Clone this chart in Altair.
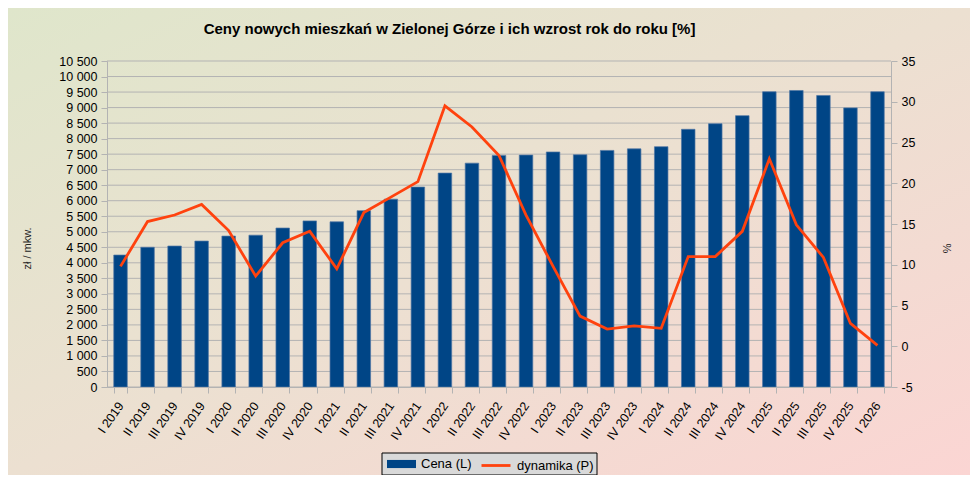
import altair as alt
import pandas as pd

# kwartały
kwartaly = [
    "I 2019", "II 2019", "III 2019", "IV 2019",
    "I 2020", "II 2020", "III 2020", "IV 2020",
    "I 2021", "II 2021", "III 2021", "IV 2021",
    "I 2022", "II 2022", "III 2022", "IV 2022",
    "I 2023", "II 2023", "III 2023", "IV 2023",
    "I 2024", "II 2024", "III 2024", "IV 2024",
    "I 2025", "II 2025", "III 2025", "IV 2025",
    "I 2026",
]

# cena zł / m2 (oś lewa)
cena = [
    4250, 4500, 4540, 4700,
    4860, 4890, 5120, 5350,
    5320, 5680, 6050, 6440,
    6890, 7210, 7460, 7470,
    7570, 7480, 7620, 7670,
    7740, 8300, 8480, 8740,
    9510, 9550, 9390, 8990,
    9510,
]

# dynamika r/r w % (oś prawa)
dynamika = [
    9.8, 15.3, 16.1, 17.4,
    14.2, 8.6, 12.7, 14.1,
    9.5, 16.4, 18.3, 20.2,
    29.5, 26.9, 23.4, 16.1,
    9.8, 3.7, 2.1, 2.5,
    2.2, 11.0, 11.0, 14.1,
    23.0, 14.9, 10.9, 2.8,
    0.1,
]

left_ticks = list(range(0, 10501, 500))
right_ticks = [-5, 0, 5, 10, 15, 20, 25, 30, 35]

W, H = 784, 326
PAD = {"left": 99, "top": 53, "right": 79, "bottom": 88}
FONT = "Liberation Sans"
BLUE = "#004586"
ORANGE = "#ff420e"
GRID = "#b3b3b3"

df = pd.DataFrame({"kw": kwartaly, "cena": cena, "dynamika": dynamika})
df["s1"] = "Cena (L)"
df["s2"] = "dynamika (P)"

one = pd.DataFrame({"a": [0]})

# tło z gradientem (dekoracja)
background = (
    alt.Chart(one)
    .mark_rect(
        color=alt.LinearGradient(
            gradient="linear",
            x1=0, y1=0, x2=1, y2=1,
            stops=[
                alt.GradientStop(color="#dfe6cb", offset=0),
                alt.GradientStop(color="#ece0d1", offset=0.5),
                alt.GradientStop(color="#fbd5d3", offset=1),
            ],
        )
    )
    .encode(
        x=alt.value(-PAD["left"]),
        x2=alt.value(W + PAD["right"]),
        y=alt.value(-PAD["top"]),
        y2=alt.value(H + PAD["bottom"]),
    )
)

# ramka legendy
legend_box = (
    alt.Chart(one)
    .mark_rect(fill="#d9d9d9", stroke="black", strokeWidth=1)
    .encode(
        x=alt.value(275), x2=alt.value(490),
        y=alt.value(392), y2=alt.value(414),
    )
)

# linie siatki co 500 zł (pod słupkami)
grid = (
    alt.Chart(pd.DataFrame({"v": left_ticks}))
    .mark_rule(color=GRID, strokeWidth=1)
    .encode(
        y=alt.Y("v:Q", scale=alt.Scale(domain=[0, 10500], nice=False), axis=None)
    )
)

x_enc = alt.X(
    "kw:N",
    sort=kwartaly,
    title=None,
    scale=alt.Scale(paddingInner=0.5, paddingOuter=0.25),
    axis=alt.Axis(
        labelAngle=-55,
        labelAlign="right",
        labelBaseline="middle",
        labelPadding=10,
        labelFontSize=12.5,
        labelColor="black",
        tickBand="extent",
        tickSize=6,
        tickColor=GRID,
        domainColor=GRID,
        grid=False,
        zindex=1,
    ),
)

bars = (
    alt.Chart(df)
    .mark_bar(stroke="#4f76a3", strokeWidth=0.7)
    .encode(
        x=x_enc,
        y=alt.Y(
            "cena:Q",
            scale=alt.Scale(domain=[0, 10500], nice=False),
            axis=alt.Axis(
                orient="left",
                values=left_ticks,
                labelExpr="replace(format(datum.value, ','), ',', ' ')",
                labelFontSize=12.5,
                labelColor="black",
                labelPadding=4,
                tickSize=6,
                tickColor=GRID,
                domainColor=GRID,
                grid=False,
                zindex=1,
                title="zł / mkw.",
                titleFontSize=11,
                titleFontWeight="normal",
                titleColor="#222222",
                titleAngle=270,
                titleAlign="center",
                titleBaseline="middle",
                titleX=-80,
                titleY=187,
            ),
        ),
        color=alt.Color(
            "s1:N",
            scale=alt.Scale(domain=["Cena (L)"], range=[BLUE]),
            legend=alt.Legend(
                title=None,
                orient="none",
                legendX=280,
                legendY=388.5,
                padding=0,
                symbolType="M-1,-0.28H1V0.28H-1Z",
                symbolSize=841,
                symbolStrokeWidth=0,
                labelFontSize=13,
                labelColor="black",
                labelOffset=5,
            ),
        ),
    )
)

line = (
    alt.Chart(df)
    .mark_line(strokeWidth=2.8)
    .encode(
        x=alt.X("kw:N", sort=kwartaly),
        y=alt.Y(
            "dynamika:Q",
            scale=alt.Scale(domain=[-5, 35], nice=False),
            axis=alt.Axis(
                orient="right",
                values=right_ticks,
                labelExpr="datum.value + ''",
                labelFontSize=12.5,
                labelColor="black",
                labelPadding=4,
                tickSize=6,
                tickColor=GRID,
                domainColor=GRID,
                grid=False,
                zindex=1,
                title="%",
                titleFontSize=11,
                titleFontWeight="normal",
                titleColor="#222222",
                titleAngle=90,
                titleAlign="center",
                titleBaseline="middle",
                titleX=54,
                titleY=187,
            ),
        ),
        stroke=alt.Stroke(
            "s2:N",
            scale=alt.Scale(domain=["dynamika (P)"], range=[ORANGE]),
            legend=alt.Legend(
                title=None,
                orient="none",
                legendX=373,
                legendY=388.5,
                padding=0,
                symbolType="stroke",
                symbolSize=841,
                symbolStrokeWidth=2.8,
                labelFontSize=13,
                labelColor="black",
                labelOffset=5,
            ),
        ),
    )
)

chart = (
    alt.layer(background, legend_box, grid, bars, line)
    .resolve_scale(y="independent", color="independent")
    .properties(
        width=W,
        height=H,
        padding=PAD,
        autosize=alt.AutoSizeParams(type="none"),
        title=alt.TitleParams(
            "Ceny nowych mieszkań w Zielonej Górze i ich wzrost rok do roku [%]",
            font=FONT,
            fontSize=15,
            fontWeight="bold",
            color="black",
            anchor="middle",
            frame="group",
            dx=-49.5,
            baseline="alphabetic",
            offset=-41,
        ),
    )
    .configure(font=FONT, background="white")
    .configure_view(strokeWidth=0)
    .configure_axis(labelFont=FONT, titleFont=FONT)
    .configure_legend(labelFont=FONT)
)

chart.save("out.html", embed_options={"renderer": "svg", "actions": False})
